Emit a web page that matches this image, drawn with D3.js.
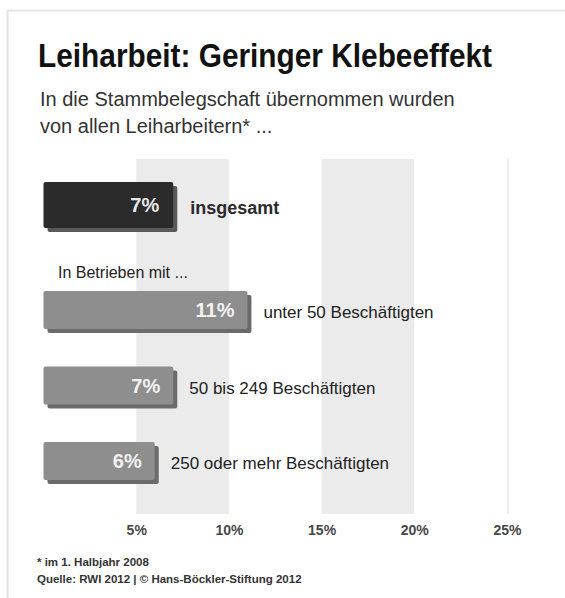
<!DOCTYPE html>
<html>
<head>
<meta charset="utf-8">
<script src="https://cdn.jsdelivr.net/npm/d3@7"></script>
<style>
  body { margin: 0; background: #fff; }
  svg { display: block; font-family: "Liberation Sans", Arial, sans-serif; }
</style>
</head>
<body>
<svg id="chart" width="565" height="598"></svg>
<script>
// data
var totalLabel = ["insgesamt"]
var totalValue = [7]
var groupLabels = ["unter 50 Beschäftigten", "50 bis 249 Beschäftigten", "250 oder mehr Beschäftigten"]
var groupValues = [11, 7, 6]
var tickValues = [5, 10, 15, 20, 25]
var shadedRanges = [[5, 10], [15, 20], [25, 25.1]]

var svg = d3.select("#chart")

// frame
svg.append("line").attr("x1", 7).attr("x2", 565).attr("y1", 10.5).attr("y2", 10.5)
  .style("stroke", "#e4e4e4").style("stroke-width", 2)
svg.append("line").attr("x1", 7.5).attr("x2", 7.5).attr("y1", 10).attr("y2", 598)
  .style("stroke", "#e4e4e4").style("stroke-width", 2)

var x = d3.scaleLinear()
    .domain([0, 25])
    .range([43.5, 507])

var y = d3.scaleBand()
    .domain(groupLabels)
    .range([291, 291 + 2 * 75.5 + 38])
    .paddingInner(0.4967)

var bandTop = 159, bandBottom = 514

// shaded columns
svg.selectAll(".band")
  .data(shadedRanges)
  .enter()
  .append("rect")
    .attr("x", function(d){ return x(d[0]) })
    .attr("y", bandTop)
    .attr("width", function(d){ return Math.max(1.5, x(d[1]) - x(d[0])) })
    .attr("height", bandBottom - bandTop)
    .style("fill", "#ebebeb")

// axis labels
var axis = svg.append("g")
  .attr("transform", "translate(0,535)")
  .call(d3.axisBottom(x).tickValues(tickValues).tickSize(0).tickPadding(0)
    .tickFormat(function(d){ return d + "%" }))
axis.select(".domain").remove()
axis.selectAll("text")
  .attr("dy", 0)
  .style("font-family", "Liberation Sans, Arial, sans-serif")
  .style("font-size", "14px")
  .style("font-weight", "bold")
  .style("fill", "#474747")

function setText(pos_x, pos_y, font_size, txt, color, weight, anchor) {
  return svg.append("text")
    .attr("x", pos_x)
    .attr("y", pos_y)
    .text(txt)
    .style("font-size", font_size)
    .style("font-weight", weight || "normal")
    .style("text-anchor", anchor || "start")
    .style("fill", color)
}

// titles
setText(38, 67, "33px", "Leiharbeit: Geringer Klebeeffekt", "#111", "bold")
  .attr("textLength", 454).attr("lengthAdjust", "spacingAndGlyphs")
setText(40, 106, "20px", "In die Stammbelegschaft übernommen wurden", "#333")
setText(40, 133, "20px", "von allen Leiharbeitern* ...", "#333")

// total bar
var totalTop = 182, totalH = 46, shadow = 4
svg.selectAll(".totalShadow")
  .data(totalValue)
  .enter()
  .append("rect")
    .attr("x", x(0) + shadow)
    .attr("y", totalTop + shadow)
    .attr("width", function(d){ return x(d) - x(0) })
    .attr("height", totalH)
    .attr("rx", 2)
    .style("fill", "#5a5a5a")
svg.selectAll(".total")
  .data(totalValue)
  .enter()
  .append("rect")
    .attr("x", x(0))
    .attr("y", totalTop)
    .attr("width", function(d){ return x(d) - x(0) })
    .attr("height", totalH)
    .attr("rx", 2)
    .style("fill", "#2b2b2b")
totalValue.forEach(function(v, i) {
  setText(x(v) - 14, totalTop + totalH / 2 + 7, "20px", v + "%", "#e8e8e8", "bold", "end")
  setText(x(v) + shadow + 13, totalTop + (totalH + shadow) / 2 + 7, "18px", totalLabel[i], "#2a2a2a", "bold")
})

setText(58, 278, "16px", "In Betrieben mit ...", "#222")

// group bars
svg.selectAll(".groupShadow")
  .data(groupValues)
  .enter()
  .append("rect")
    .attr("x", x(0) + shadow)
    .attr("y", function(d, i){ return y(groupLabels[i]) + shadow })
    .attr("width", function(d){ return x(d) - x(0) })
    .attr("height", y.bandwidth())
    .attr("rx", 2)
    .style("fill", "#6b6b6b")
svg.selectAll(".group")
  .data(groupValues)
  .enter()
  .append("rect")
    .attr("x", x(0))
    .attr("y", function(d, i){ return y(groupLabels[i]) })
    .attr("width", function(d){ return x(d) - x(0) })
    .attr("height", y.bandwidth())
    .attr("rx", 2)
    .style("fill", "#8e8e8e")
groupValues.forEach(function(v, i) {
  var top = y(groupLabels[i])
  setText(x(v) - 13, top + y.bandwidth() / 2 + 7, "20px", v + "%", "#f2f2f2", "bold", "end")
  setText(x(v) + shadow + 12, top + (y.bandwidth() + shadow) / 2 + 6, "17px", groupLabels[i], "#222")
})

// footnote
setText(37, 566, "11.5px", "* im 1. Halbjahr 2008", "#333", "bold")
setText(37, 583, "11.5px", "Quelle: RWI 2012 | © Hans-Böckler-Stiftung 2012", "#333", "bold")
</script>
</body>
</html>
